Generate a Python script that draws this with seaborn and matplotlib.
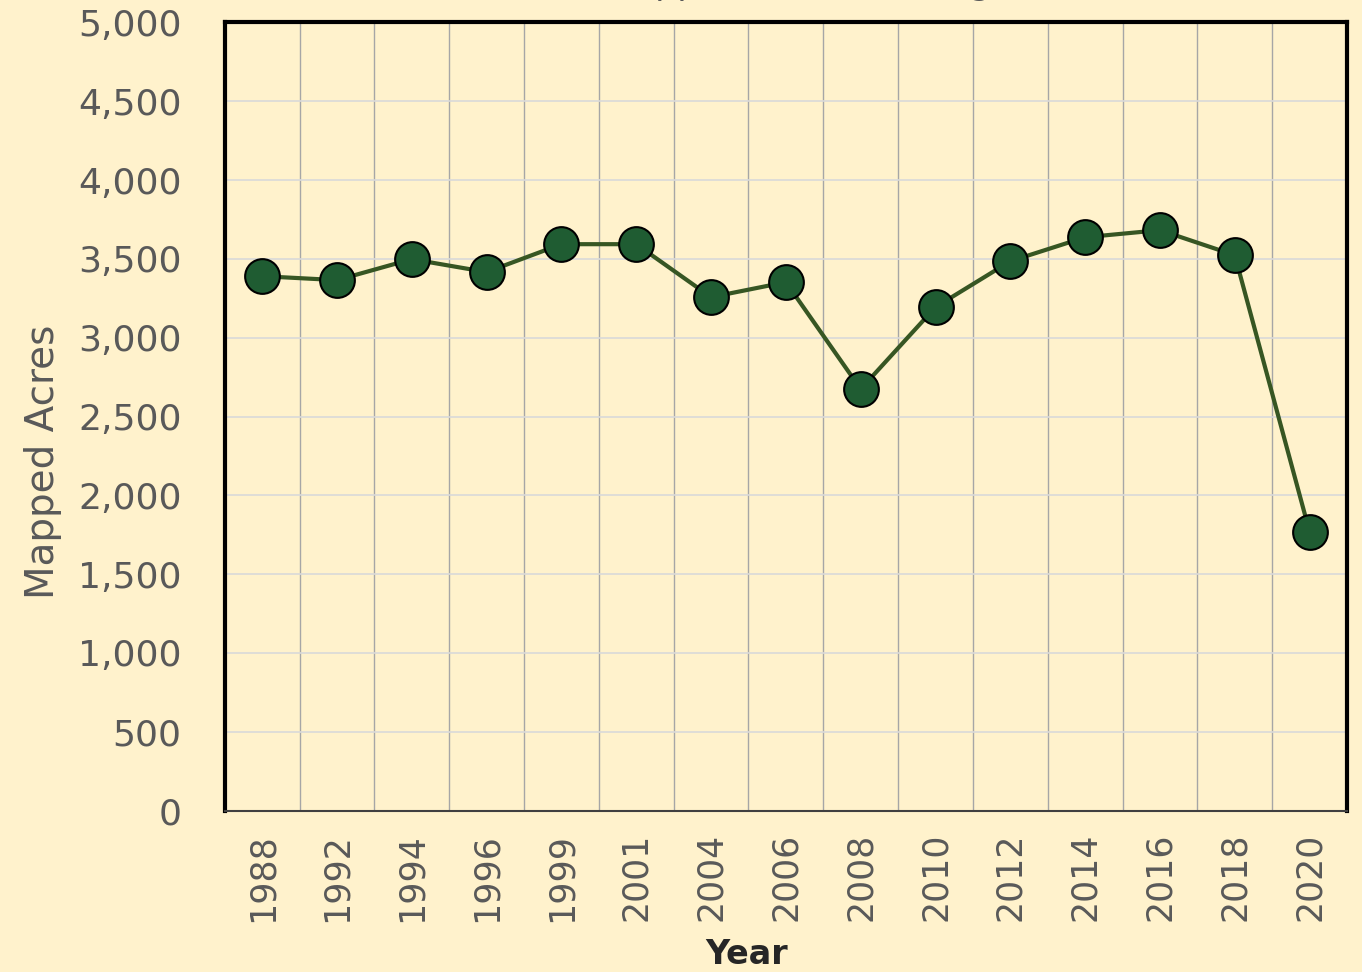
import numpy as np
import pandas as pd
import matplotlib.pyplot as plt
import seaborn as sns
from matplotlib.ticker import FuncFormatter, MultipleLocator


# ---------------------------------------------------------------------
# Data
# ---------------------------------------------------------------------
years = ["1988", "1992", "1994", "1996", "1999", "2001", "2004", "2006",
         "2008", "2010", "2012", "2014", "2016", "2018", "2020"]
acres = [3390, 3365, 3498, 3416, 3593, 3593, 3257, 3352,
         2674, 3194, 3485, 3637, 3682, 3523, 1768]

df = pd.DataFrame({"Year": years, "Mapped Acres": acres})

BG = "#FFF2CC"
TXT = "#595959"

sns.set_style("white")
plt.rcParams["font.family"] = ["DejaVu Sans"]

fig = plt.figure(figsize=(13.62, 9.72), dpi=100, facecolor=BG)
ax = fig.add_axes([0.165, 0.166, 0.824, 0.811])
ax.set_facecolor(BG)

sns.lineplot(data=df, x="Year", y="Mapped Acres", ax=ax, sort=False,
             color="#375623", linewidth=3, marker="o", markersize=25,
             markerfacecolor="#1F5C32", markeredgecolor="black",
             markeredgewidth=1.5, zorder=3)

# axes limits / ticks
ax.set_ylim(0, 5000)
ax.set_xlim(-0.5, len(years) - 0.5)
ax.yaxis.set_major_locator(MultipleLocator(500))
ax.yaxis.set_major_formatter(FuncFormatter(lambda v, p: f"{int(v):,}"))
ax.set_xticks(np.arange(len(years)))
ax.set_xticklabels(years, rotation=90)
ax.set_xticks(np.arange(len(years) + 1) - 0.5, minor=True)

ax.tick_params(axis="y", labelsize=26, labelcolor=TXT, length=0, pad=31)
ax.tick_params(axis="x", which="major", labelsize=25, labelcolor=TXT,
               length=0, pad=16)
ax.tick_params(axis="x", which="minor", length=12, width=1.2,
               color="#D9D9D9")

# gridlines
ax.grid(axis="y", color="#D9D9D9", linewidth=1.2, zorder=0)
ax.grid(axis="x", which="minor", color="#A6A6A6", linewidth=1, zorder=0)
ax.set_axisbelow(True)

for side in ["left", "top", "right"]:
    ax.spines[side].set_color("black")
    ax.spines[side].set_linewidth(3)
ax.spines["bottom"].set_color("#404040")
ax.spines["bottom"].set_linewidth(1.5)

ax.set_ylabel("Mapped Acres", fontsize=28, color=TXT)
ax.yaxis.set_label_coords(-0.145, 0.442)
ax.set_xlabel("Year", fontsize=24, color="#262626", fontweight="bold")
ax.xaxis.set_label_coords(0.465, -0.162)

# title sits almost entirely above the canvas in the reference
fig.text(0.578, 1.0 + 6 / 972, "Total Mapped Acres of Seagrass",
         ha="center", va="baseline", fontsize=25, color=TXT)

plt.savefig("out.png", dpi=100, facecolor=BG)
